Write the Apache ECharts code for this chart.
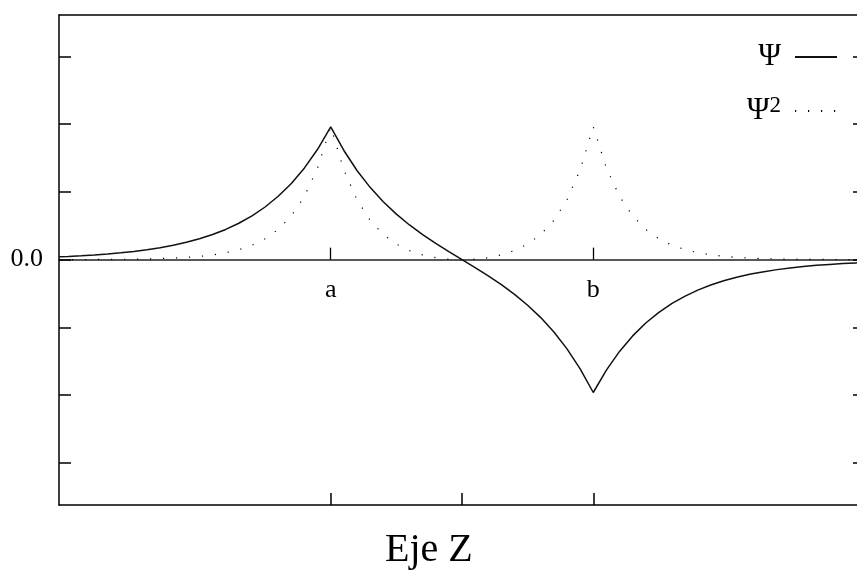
<!DOCTYPE html>
<html>
<head>
<meta charset="utf-8">
<script src="https://cdn.jsdelivr.net/npm/echarts@6.0.0/dist/echarts.min.js"></script>
<style>
  html, body { margin: 0; padding: 0; background: #fff; }
  #chart { width: 857px; height: 579px; }
</style>
</head>
<body>
<div id="chart"></div>
<script>
// Position along the Z axis (well a at 2, well b at 4)
const zVals = [
  -0.07, 0.0, 0.1, 0.2, 0.3, 0.4, 0.5, 0.6, 0.7, 0.8, 0.9,
  1.0, 1.1, 1.2, 1.3, 1.4, 1.5, 1.6, 1.7, 1.8, 1.9,
  2.0, 2.1, 2.2, 2.3, 2.4, 2.5, 2.6, 2.7, 2.8, 2.9,
  3.0, 3.1, 3.2, 3.3, 3.4, 3.5, 3.6, 3.7, 3.8, 3.9,
  4.0, 4.1, 4.2, 4.3, 4.4, 4.5, 4.6, 4.7, 4.8, 4.9,
  5.0, 5.1, 5.2, 5.3, 5.4, 5.5, 5.6, 5.7, 5.8, 5.9,
  6.0, 6.07
];

// Wave function (antisymmetric state)
const psiVals = [
  0.043, 0.048, 0.058, 0.070, 0.084, 0.102, 0.122, 0.147, 0.177, 0.213, 0.256,
  0.308, 0.371, 0.446, 0.537, 0.646, 0.777, 0.935, 1.125, 1.354, 1.629,
  1.960, 1.611, 1.316, 1.067, 0.855, 0.672, 0.512, 0.369, 0.239, 0.118,
  0.000, -0.118, -0.239, -0.369, -0.512, -0.672, -0.855, -1.067, -1.316, -1.611,
  -1.960, -1.629, -1.354, -1.125, -0.935, -0.777, -0.646, -0.537, -0.446, -0.371,
  -0.308, -0.256, -0.213, -0.177, -0.147, -0.122, -0.102, -0.084, -0.070, -0.058,
  -0.048, -0.043
];

// Probability density (scaled)
const psi2Vals = [
  0.001, 0.001, 0.002, 0.003, 0.004, 0.005, 0.008, 0.011, 0.016, 0.023, 0.033,
  0.048, 0.070, 0.102, 0.147, 0.213, 0.308, 0.446, 0.646, 0.935, 1.354,
  1.960, 1.324, 0.884, 0.581, 0.373, 0.230, 0.134, 0.070, 0.029, 0.007,
  0.000, 0.007, 0.029, 0.070, 0.134, 0.230, 0.373, 0.581, 0.884, 1.324,
  1.960, 1.354, 0.935, 0.646, 0.446, 0.308, 0.213, 0.147, 0.102, 0.070,
  0.048, 0.033, 0.023, 0.016, 0.011, 0.008, 0.005, 0.004, 0.003, 0.002,
  0.001, 0.001
];

// Ticks and labels
const xFrameTicks = [2, 3, 4];
const xWellPos = [2, 4];
const xWellNames = ['a', 'b'];
const yTicks = [-3, -2, -1, 0, 1, 2, 3];
const yLabelVals = [0];

const X_MIN = -0.07, X_MAX = 6.07;
const Y_MIN = -3.62, Y_MAX = 3.61;
const FONT = 'Liberation Serif';
const INK = '#000';

function pairs(ys) {
  return zVals.map((z, i) => [z, ys[i]]);
}

function frameAxis(position, extra) {
  return Object.assign({
    type: 'value', min: X_MIN, max: X_MAX, position: position,
    axisLine: { onZero: false, lineStyle: { color: INK, width: 1.5 } },
    axisTick: { show: false },
    axisLabel: { show: false },
    splitLine: { show: false }
  }, extra || {});
}

const chart = echarts.init(document.getElementById('chart'), null, { renderer: 'canvas' });

const option = {
  animation: false,
  backgroundColor: '#fff',
  title: {
    text: 'Eje Z',
    left: 385,
    top: 530,
    padding: 0,
    textStyle: { fontFamily: FONT, fontSize: 40, fontWeight: 'normal', color: INK }
  },
  grid: {
    left: 59, top: 15, right: -8, bottom: 74,
    containLabel: false,
    outerBoundsMode: 'none'
  },
  legend: {
    orient: 'vertical',
    align: 'right',
    right: 19,
    top: 40,
    padding: 0,
    itemWidth: 42,
    itemHeight: 34,
    itemGap: 20,
    selectedMode: false,
    itemStyle: { opacity: 0 },
    textStyle: {
      fontFamily: FONT, fontSize: 31, color: INK, lineHeight: 34,
      padding: [0, 9, 0, 0],
      rich: {
        b: { fontFamily: FONT, fontSize: 31, lineHeight: 34, color: INK },
        s: { fontFamily: FONT, fontSize: 23, lineHeight: 23, verticalAlign: 'top', color: INK }
      }
    },
    formatter: function (name) {
      return name === 'psi' ? '{b|Ψ}' : '{b|Ψ}{s|2}';
    },
    data: ['psi', 'psi2']
  },
  xAxis: [
    // bottom frame edge with ticks at a, midpoint, b
    frameAxis('bottom', {
      axisTick: { show: true, inside: true, length: 12, customValues: xFrameTicks,
                  lineStyle: { color: INK, width: 1.5 } }
    }),
    // top frame edge
    frameAxis('top'),
    // zero line with the well markers; moved up to y = 0 once the layout is known
    {
      type: 'value', min: X_MIN, max: X_MAX, position: 'bottom', offset: 0,
      axisLine: { onZero: false, lineStyle: { color: '#222', width: 1.5 } },
      axisTick: { inside: true, length: 12, customValues: xWellPos, lineStyle: { color: INK, width: 1.3 } },
      axisLabel: {
        customValues: xWellPos,
        formatter: function (v) {
          const i = xWellPos.indexOf(Math.round(v));
          return i >= 0 ? xWellNames[i] : '';
        },
        margin: 18,
        fontFamily: FONT, fontSize: 26, color: INK
      },
      splitLine: { show: false }
    }
  ],
  yAxis: [
    {
      type: 'value', min: Y_MIN, max: Y_MAX, position: 'left',
      axisLine: { onZero: false, lineStyle: { color: INK, width: 1.5 } },
      axisTick: { inside: true, length: 12, customValues: yTicks, lineStyle: { color: INK, width: 1.5 } },
      axisLabel: {
        customValues: yLabelVals,
        formatter: function (v) { return v.toFixed(1); },
        margin: 16,
        fontFamily: FONT, fontSize: 26, color: INK
      },
      splitLine: { show: false }
    },
    {
      type: 'value', min: Y_MIN, max: Y_MAX, position: 'right',
      axisLine: { onZero: false, lineStyle: { color: INK, width: 1.5 } },
      axisTick: { inside: true, length: 12, customValues: yTicks, lineStyle: { color: INK, width: 1.5 } },
      axisLabel: { show: false },
      splitLine: { show: false }
    }
  ],
  series: [
    {
      name: 'psi2',
      type: 'line',
      xAxisIndex: 0, yAxisIndex: 0,
      data: pairs(psi2Vals),
      symbol: 'none',
      lineStyle: { color: INK, width: 1.2, type: [1.2, 11.8] },
      z: 2
    },
    {
      name: 'psi',
      type: 'line',
      xAxisIndex: 0, yAxisIndex: 0,
      data: pairs(psiVals),
      symbol: 'none',
      lineStyle: { color: '#111', width: 1.5 },
      z: 3
    }
  ]
};

chart.setOption(option);

// Shift the marker axis from the bottom edge up to the y = 0 level
const zeroPx = chart.convertToPixel({ yAxisIndex: 0 }, 0);
const bottomPx = chart.convertToPixel({ yAxisIndex: 0 }, Y_MIN);
chart.setOption({ xAxis: [{}, {}, { offset: zeroPx - bottomPx }] });
</script>
</body>
</html>
